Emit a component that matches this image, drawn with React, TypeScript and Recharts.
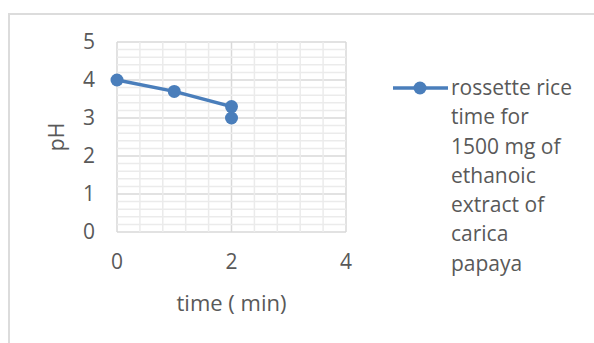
import { ScatterChart, Scatter, XAxis, YAxis, CartesianGrid, Legend, ReferenceLine } from 'recharts'

const legendLines = ['rossette rice', 'time for', '1500 mg of', 'ethanoic', 'extract of', 'carica', 'papaya']
const seriesName = legendLines.join(' ')
const timeMin = [0, 1, 2, 2]
const phValues = [4, 3.7, 3.3, 3.0]

const xTicks = [0, 2, 4]
const yTicks = [0, 1, 2, 3, 4, 5]
const xMinorTicks = [0.4, 0.8, 1.2, 1.6, 2.4, 2.8, 3.2, 3.6]
const yMinorTicks = [
  0.2, 0.4, 0.6, 0.8, 1.2, 1.4, 1.6, 1.8, 2.2, 2.4, 2.6, 2.8, 3.2, 3.4, 3.6, 3.8, 4.2, 4.4, 4.6, 4.8,
]

const points = timeMin.map((t, i) => ({ time: t, ph: phValues[i] }))

const BLUE = '#4A7EBB'
const TEXT = '#595959'
const FONT = '"Open Sans", sans-serif'
const MINOR = '#ebebeb'

const Dot = (props: any) => <circle cx={props.cx} cy={props.cy} r={6.5} fill={BLUE} />

const LegendBox = () => (
  <div style={{ display: 'flex', alignItems: 'flex-start', fontFamily: FONT, color: TEXT }}>
    <svg width={58} height={30} style={{ flexShrink: 0 }}>
      <line x1={0} y1={14} x2={55} y2={14} stroke={BLUE} strokeWidth={3.5} />
      <circle cx={27} cy={14} r={6.5} fill={BLUE} />
    </svg>
    <div style={{ fontSize: 21, lineHeight: '29.3px', whiteSpace: 'nowrap', marginTop: -1 }}>
      {legendLines.map((l) => (
        <div key={l}>{l}</div>
      ))}
    </div>
  </div>
)

const YTitle = (props: any) => {
  const { viewBox } = props
  const cx = 56
  const cy = viewBox.y + viewBox.height / 2
  return (
    <text
      x={cx}
      y={cy}
      transform={`rotate(-90 ${cx} ${cy})`}
      textAnchor="middle"
      dominantBaseline="central"
      fill={TEXT}
      fontSize={21}
      fontFamily={FONT}
    >
      pH
    </text>
  )
}

const XTitle = (props: any) => {
  const { viewBox } = props
  return (
    <text
      x={viewBox.x + viewBox.width / 2}
      y={302}
      textAnchor="middle"
      dominantBaseline="central"
      fill={TEXT}
      fontSize={22}
      fontFamily={FONT}
    >
      time ( min)
    </text>
  )
}

export default function App() {
  const tickStyle = { fill: TEXT, fontSize: 21, fontFamily: FONT }
  return (
    <div style={{ position: 'absolute', left: 0, top: 0, width: 594, height: 343, overflow: 'hidden', background: '#fff' }}>
      <div
        style={{
          position: 'absolute',
          left: 8,
          top: 13,
          width: 700,
          height: 400,
          borderLeft: '2px solid #dcdcdc',
          borderTop: '2px solid #dcdcdc',
        }}
      />
      <ScatterChart width={594} height={343} margin={{ top: 42, right: 58, bottom: 0, left: 40 }}>
        {/* minor gridlines */}
        {xMinorTicks.map((t) => (
          <ReferenceLine key={`mx${t}`} x={t} stroke={MINOR} strokeWidth={1.5} />
        ))}
        {yMinorTicks.map((t) => (
          <ReferenceLine key={`my${t}`} y={t} stroke={MINOR} strokeWidth={1.5} />
        ))}
        <CartesianGrid stroke="#d9d9d9" strokeWidth={1.5} />
        <XAxis
          type="number"
          dataKey="time"
          domain={[0, 4]}
          ticks={xTicks}
          axisLine={false}
          tickLine={false}
          tickSize={0}
          tickMargin={22}
          height={111}
          tick={tickStyle}
          label={{ content: XTitle }}
        />
        <YAxis
          type="number"
          dataKey="ph"
          domain={[0, 5]}
          ticks={yTicks}
          axisLine={false}
          tickLine={false}
          tickSize={0}
          tickMargin={22}
          width={77}
          tick={tickStyle}
          label={{ content: YTitle }}
        />
        <Legend
          layout="vertical"
          align="right"
          verticalAlign="top"
          content={LegendBox}
          wrapperStyle={{ width: 190, left: 393, top: 74, right: 'auto' }}
        />
        <Scatter
          name={seriesName}
          data={points}
          fill={BLUE}
          line={{ stroke: BLUE, strokeWidth: 3.5 }}
          lineType="joint"
          shape={Dot}
          isAnimationActive={false}
        />
      </ScatterChart>
    </div>
  )
}
